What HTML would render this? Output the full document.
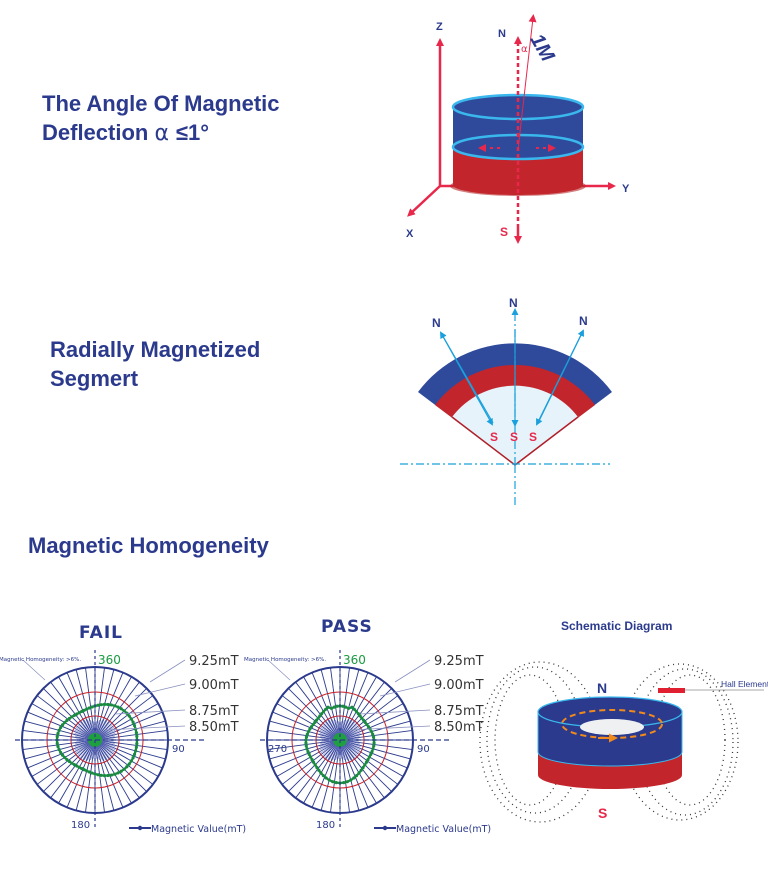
<!DOCTYPE html>
<html><head><meta charset="utf-8"><style>
html,body{margin:0;padding:0;background:#fff;}
svg{display:block;}
.t{font-family:"Liberation Sans",sans-serif;font-weight:bold;fill:#2b3a8c;}
.l{font-family:"DejaVu Sans","Liberation Sans",sans-serif;fill:#2b3a8c;}
</style></head><body>
<svg id="s" width="768" height="876" viewBox="0 0 768 876" xmlns="http://www.w3.org/2000/svg">
<defs>
<marker id="ar" markerWidth="8" markerHeight="8" refX="4" refY="4" orient="auto" markerUnits="userSpaceOnUse"><path d="M0,0 L8,4 L0,8 Z" fill="#e8274b"/></marker>
<marker id="arb" markerWidth="7" markerHeight="7" refX="5" refY="3.5" orient="auto" markerUnits="userSpaceOnUse"><path d="M0,0 L7,3.5 L0,7 Z" fill="#1aa0dc"/></marker>
<marker id="aro" markerWidth="9" markerHeight="9" refX="5" refY="4.5" orient="auto" markerUnits="userSpaceOnUse"><path d="M0,0 L9,4.5 L0,9 Z" fill="#f08a1c"/></marker>
</defs>
<text class="t" x="42" y="111" font-size="22">The Angle Of Magnetic</text>
<text class="t" x="42" y="140" font-size="22">Deflection <tspan font-weight="normal" font-family="DejaVu Sans">α </tspan>≤1°</text>
<text class="t" x="50" y="357" font-size="22">Radially Magnetized</text>
<text class="t" x="50" y="386" font-size="22">Segmert</text>
<text class="t" x="28" y="553" font-size="22">Magnetic Homogeneity</text>

<g stroke="#e8274b" stroke-width="2.5" fill="none">
<line x1="440" y1="186" x2="440" y2="42" marker-end="url(#ar)"/>
<line x1="440" y1="186" x2="612" y2="186" marker-end="url(#ar)"/>
<line x1="440" y1="186" x2="410" y2="214" marker-end="url(#ar)"/>
</g>
<text class="t" x="436" y="30" font-size="11">Z</text>
<text class="t" x="622" y="192" font-size="11">Y</text>
<text class="t" x="406" y="237" font-size="11">X</text>
<ellipse cx="518" cy="186" rx="68" ry="10" fill="#b82a2a" opacity="0.6"/>
<path d="M453,147 L453,185 A65,10 0 0 0 583,185 L583,147 Z" fill="#c3252c"/>
<path d="M453,107 L453,147 A65,12 0 0 0 583,147 L583,107 Z" fill="#2f4a9a"/>
<ellipse cx="518" cy="107" rx="65" ry="12" fill="#2f4a9a" stroke="#3ab8ee" stroke-width="2.5"/>
<ellipse cx="518" cy="147" rx="65" ry="12" fill="none" stroke="#3ab8ee" stroke-width="2.5"/>
<line x1="518" y1="228" x2="518" y2="40" stroke="#e8274b" stroke-width="2.5" stroke-dasharray="4,3" marker-end="url(#ar)"/>
<line x1="518" y1="228" x2="518" y2="240" stroke="#e8274b" stroke-width="2.5" marker-end="url(#ar)"/>
<line x1="518" y1="150" x2="533" y2="18" stroke="#e8274b" stroke-width="1" marker-end="url(#ar)"/>
<line x1="500" y1="148" x2="482" y2="148" stroke="#e8274b" stroke-width="2" stroke-dasharray="3,4" marker-end="url(#ar)"/>
<line x1="536" y1="148" x2="552" y2="148" stroke="#e8274b" stroke-width="2" stroke-dasharray="3,4" marker-end="url(#ar)"/>
<text class="t" x="498" y="37" font-size="11">N</text>
<text x="500" y="236" font-size="12" font-family="Liberation Sans" font-weight="bold" fill="#e8274b">S</text>
<text x="521" y="52" font-size="10" fill="#e8274b" font-family="DejaVu Sans">α</text>
<text x="532" y="55" font-size="20" font-weight="bold" font-style="italic" fill="#2b3a8c" font-family="Liberation Sans" transform="rotate(60 545 45)">1M</text>

<path d="M515,465 L418,392 A121,121 0 0 1 612,392 Z" fill="#2f4a9a"/>
<path d="M515,465 L435,405 A100,100 0 0 1 595,405 Z" fill="#c3252c"/>
<path d="M515,465 L452,417 A79,79 0 0 1 578,417 Z" fill="#e6f3fb"/>
<path d="M452,417 L515,465 L578,417" fill="none" stroke="#b0202a" stroke-width="1.5"/>
<g stroke="#1aa0dc" stroke-width="1.2" fill="none">
<line x1="400" y1="464" x2="610" y2="464" stroke-dasharray="8,3,2,3"/>
<line x1="515" y1="465" x2="515" y2="505" stroke-dasharray="8,3,2,3"/>
<line x1="515" y1="465" x2="515" y2="310" stroke-dasharray="8,3,2,3" marker-end="url(#arb)"/>
<line x1="515" y1="330" x2="515" y2="425" marker-end="url(#arb)"/>
<line x1="493" y1="423" x2="441" y2="333" marker-end="url(#arb)"/>
<line x1="441" y1="333" x2="492" y2="424" marker-end="url(#arb)"/>
<line x1="538" y1="423" x2="583" y2="331" marker-end="url(#arb)"/>
<line x1="583" y1="331" x2="537" y2="424" marker-end="url(#arb)"/>
</g>
<text class="t" x="509" y="307" font-size="12">N</text>
<text class="t" x="432" y="327" font-size="12">N</text>
<text class="t" x="579" y="325" font-size="12">N</text>
<g font-family="Liberation Sans" font-weight="bold" font-size="12" fill="#e8274b">
<text x="490" y="441">S</text><text x="510" y="441">S</text><text x="529" y="441">S</text></g>

<text class="l" x="79" y="638" font-size="17" font-weight="bold" letter-spacing="1">FAIL</text>
<text class="l" x="321" y="632" font-size="17" font-weight="bold" letter-spacing="1">PASS</text>
<text class="t" x="561" y="630" font-size="12">Schematic Diagram</text>
<g id="polars"></g>

<g fill="none" stroke="#333" stroke-width="1.3" stroke-dasharray="1,4">
<ellipse cx="530" cy="740" rx="35" ry="65"/>
<ellipse cx="535" cy="740" rx="48" ry="73"/>
<ellipse cx="540" cy="742" rx="60" ry="80"/>
<ellipse cx="690" cy="740" rx="35" ry="65"/>
<ellipse cx="685" cy="742" rx="48" ry="73"/>
<ellipse cx="680" cy="742" rx="58" ry="78"/>
</g>
<path d="M538,735 L538,775 A72,14 0 0 0 682,775 L682,735 Z" fill="#c3252c"/>
<path d="M538,712 L538,752 A72,14 0 0 0 682,752 L682,712 Z" fill="#2b3a8c" stroke="#3ab8ee" stroke-width="1"/>
<ellipse cx="610" cy="712" rx="72" ry="15" fill="#2b3a8c" stroke="#3ab8ee" stroke-width="1.2"/>
<ellipse cx="612" cy="727" rx="32" ry="8" fill="#eef0f2"/>
<ellipse cx="612" cy="724" rx="50" ry="14" fill="none" stroke="#f08a1c" stroke-width="2" stroke-dasharray="6,4"/>
<line x1="598" y1="738" x2="614" y2="738" stroke="#f08a1c" stroke-width="2" marker-end="url(#aro)"/>
<rect x="658" y="688" width="27" height="5" fill="#e02030"/>
<line x1="685" y1="690" x2="764" y2="690" stroke="#aaa" stroke-width="1"/>
<text x="721" y="687" font-size="8.5" fill="#2b3a8c" font-family="Liberation Sans">Hall Element</text>
<text class="t" x="597" y="693" font-size="14">N</text>
<text x="598" y="818" font-size="14" font-weight="bold" fill="#e8274b" font-family="Liberation Sans">S</text>
</svg>
<script>
(function(){
var NS="http://www.w3.org/2000/svg",g=document.getElementById("polars");
function el(n,a,t){var e=document.createElementNS(NS,n);for(var k in a)e.setAttribute(k,a[k]);if(t)e.textContent=t;g.appendChild(e);return e;}
function polar(cx,cy,pass){
 var R=73;
 for(var i=0;i<48;i++){var a=i*7.5*Math.PI/180;el("line",{x1:cx+6*Math.sin(a),y1:cy-6*Math.cos(a),x2:cx+R*Math.sin(a),y2:cy-R*Math.cos(a),stroke:"#2b3a8c","stroke-width":0.9});}
 for(var i=0;i<90;i++){var a=i*4*Math.PI/180,r=18+6*Math.abs(Math.sin(2*a));el("line",{x1:cx,y1:cy,x2:cx+r*Math.sin(a),y2:cy-r*Math.cos(a),stroke:"#5a66b8","stroke-width":0.5});}
 el("circle",{cx:cx,cy:cy,r:R,fill:"none",stroke:"#2b3a8c","stroke-width":2});
 el("circle",{cx:cx,cy:cy,r:48,fill:"none",stroke:"#c8202a","stroke-width":1});
 el("circle",{cx:cx,cy:cy,r:24,fill:"none",stroke:"#c8202a","stroke-width":1});
 var pts=[];
 for(var j=0;j<=72;j++){var a=j*5*Math.PI/180;
  var r=pass?35+3*Math.cos(2*a)+2*Math.cos(4*a)-3*Math.cos(a):37+4*Math.sin(a)-3*Math.cos(2*a)+2*Math.sin(3*a);
  if(pass&&Math.abs(Math.cos(a)-1)<0.05)r-=3;
  var x=cx+r*Math.sin(a),y=cy-r*Math.cos(a);pts.push(x.toFixed(1)+","+y.toFixed(1));
  el("circle",{cx:x,cy:y,r:1.6,fill:"#1a9040"});}
 el("polyline",{points:pts.join(" "),fill:"none",stroke:"#1a8a40","stroke-width":2.2});
 el("circle",{cx:cx,cy:cy,r:7,fill:"#1fa040"});
 el("line",{x1:cx-80,y1:cy,x2:cx+110,y2:cy,stroke:"#2b3a8c","stroke-width":1.2,"stroke-dasharray":"5,3"});
 el("line",{x1:cx,y1:cy-90,x2:cx,y2:cy+90,stroke:"#2b3a8c","stroke-width":1.2,"stroke-dasharray":"3,3"});
 var labs=[["9.25mT",664],["9.00mT",688],["8.75mT",714],["8.50mT",730]];
 labs.forEach(function(l,k){el("line",{x1:cx+[55,40,20,10][k],y1:l[1]+(k==0?18:(k==1?8:0)),x2:cx+90,y2:l[1]-4,stroke:"#8890c0","stroke-width":0.8});
  el("text",{x:cx+94,y:l[1]+1,"font-size":13,fill:"#333","font-family":"DejaVu Sans"},l[0]);});
 el("line",{x1:cx-50,y1:cy-60,x2:cx-72,y2:cy-80,stroke:"#8890c0","stroke-width":0.7});
 el("text",{x:cx-96,y:cy-79,"font-size":5.5,fill:"#2b3a8c","font-family":"DejaVu Sans"},"Magnetic Homogeneity: >6%.");
 el("text",{x:cx+3,y:cy-76,"font-size":12,fill:"#1a9a40","font-family":"DejaVu Sans"},"360");
 el("text",{x:cx+77,y:cy+12,"font-size":10,fill:"#2b3a8c","font-family":"DejaVu Sans"},"90");
 if(pass)el("text",{x:cx-72,y:cy+12,"font-size":10,fill:"#2b3a8c","font-family":"DejaVu Sans"},"270");
 el("text",{x:cx-24,y:cy+88,"font-size":10,fill:"#2b3a8c","font-family":"DejaVu Sans"},"180");
 el("line",{x1:cx+34,y1:cy+88,x2:cx+56,y2:cy+88,stroke:"#2b3a8c","stroke-width":2});
 el("circle",{cx:cx+45,cy:cy+88,r:2.2,fill:"#2b3a8c"});
 el("text",{x:cx+56,y:cy+92,"font-size":9.5,fill:"#2b3a8c","font-family":"DejaVu Sans"},"Magnetic Value(mT)");
}
polar(95,740,false);polar(340,740,true);
})();
</script>
</body></html>
